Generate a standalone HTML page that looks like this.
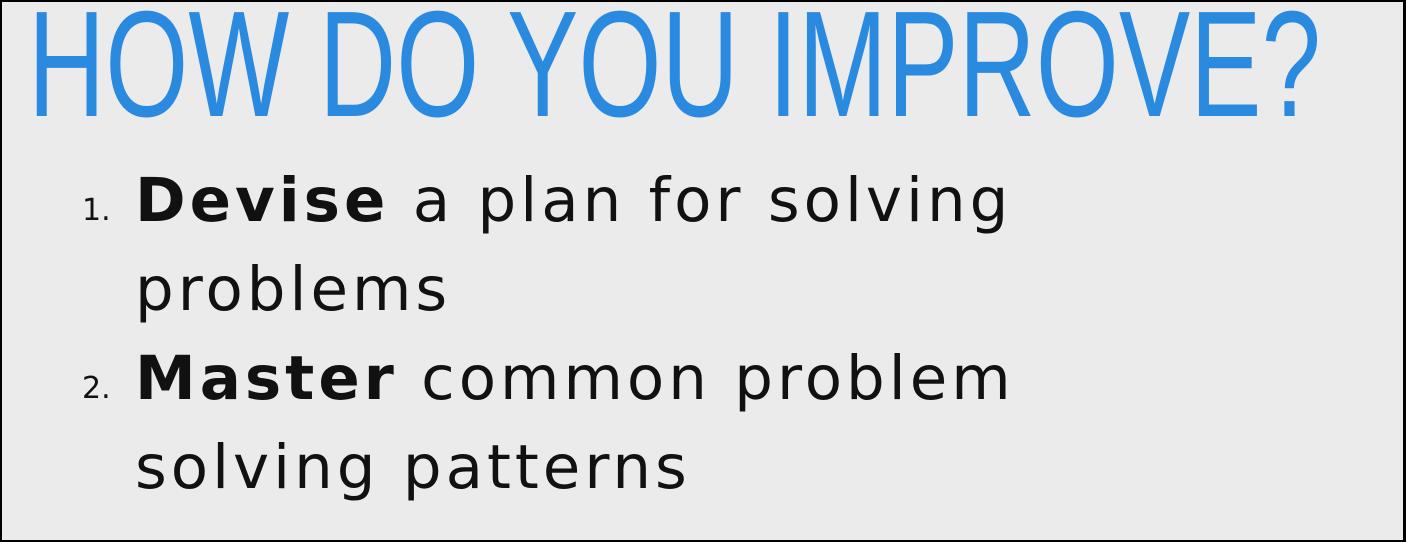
<!DOCTYPE html>
<html><head><meta charset="utf-8"><style>
html,body{margin:0;padding:0}
body{width:1406px;height:542px;overflow:hidden;background:#000;position:relative}
#slide{position:absolute;left:2px;top:2px;width:1401px;height:538px;background:#ebebeb;overflow:hidden}
#title{position:absolute;left:26px;top:-29px;font-family:"Liberation Sans",sans-serif;font-size:151px;color:#2a8ae0;white-space:nowrap;transform-origin:0 0;transform:scaleX(0.708);line-height:1.2}
.line{position:absolute;left:133px;font-family:"DejaVu Sans",sans-serif;font-size:61px;color:#111;white-space:nowrap;letter-spacing:4px;line-height:1}
.num{position:absolute;left:80px;font-family:"DejaVu Sans",sans-serif;font-size:30px;color:#111;line-height:1}
b{font-weight:bold}
</style></head><body>
<div id="slide">
<div id="title">HOW DO YOU IMPROVE?</div>
<div class="num" style="top:194px">1.</div>
<div class="line" style="top:168px"><b>Devise</b> a plan for solving</div>
<div class="line" style="top:257px">problems</div>
<div class="num" style="top:372px">2.</div>
<div class="line" style="top:346px"><b>Master</b> common problem</div>
<div class="line" style="top:435px">solving patterns</div>
</div>
</body></html>
